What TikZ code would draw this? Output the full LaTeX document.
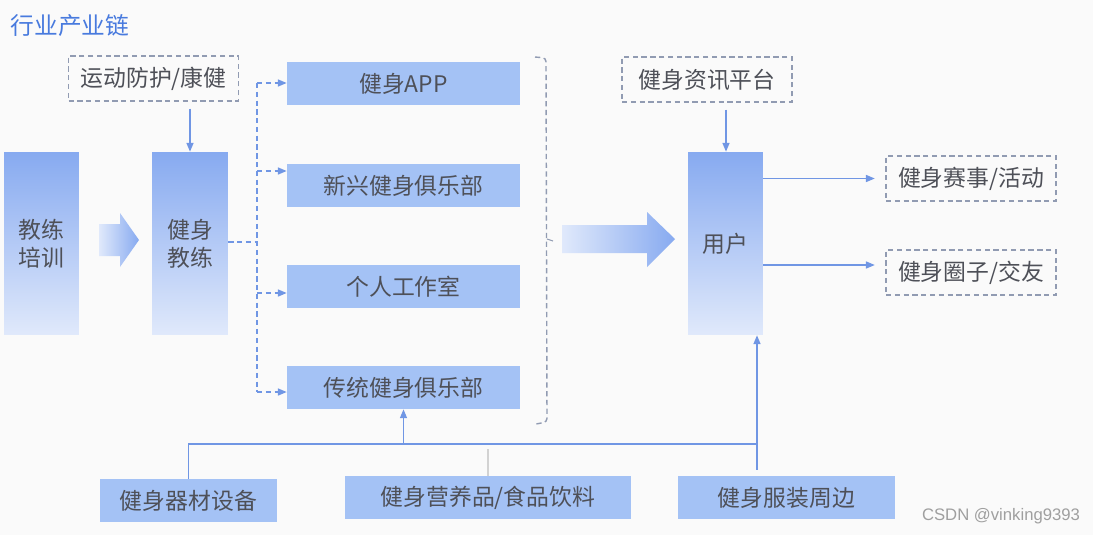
\documentclass[tikz,border=0pt]{standalone}
\usepackage{fontspec}
\usepackage{tikz}
\usetikzlibrary{arrows.meta, positioning}
\setmainfont{Noto Sans CJK SC}
\newfontfamily\wmfont{Liberation Sans}
\definecolor{boxblue}{RGB}{164,194,245}
\definecolor{topblue}{RGB}{135,170,240}
\definecolor{botblue}{RGB}{224,233,251}
\definecolor{lineblue}{RGB}{112,150,228}
\definecolor{dashgray}{RGB}{145,155,178}
\definecolor{txtgray}{RGB}{78,80,88}
\definecolor{titleblue}{RGB}{72,122,222}
\definecolor{pagebg}{RGB}{250,250,250}

\begin{document}
\begin{tikzpicture}
  [x=0.02cm, y=-0.02cm,
  every node/.style={font=\fontsize{13}{16}\selectfont, text=txtgray},
  box/.style={rectangle, fill=boxblue, minimum height=0.86cm},
  tallbox/.style={rectangle, top color=topblue, bottom color=botblue, minimum width=1.5cm, minimum height=3.66cm, align=center},
  dashbox/.style={rectangle, draw=dashgray, line width=0.8pt, dash pattern=on 3pt off 2pt, minimum width=3.4cm, minimum height=0.9cm},
  link/.style={lineblue, line width=0.7pt, -{Triangle[length=5pt,width=4pt]}},
  dlink/.style={lineblue, line width=0.8pt, dash pattern=on 3pt off 2pt, -{Triangle[length=5pt,width=4pt]}}]

\fill[pagebg] (0,0) rectangle (1093,535);

% Title
\node[text=titleblue, font=\fontsize{13.5}{16}\selectfont] (title) at (70,26) {行业产业链};

% Nodes for the coach chain
\node[dashbox] (protect) at (153.5,78.5) {运动防护/康健};
\node[tallbox] (train) at (41.5,243.5) {教练\\培训};
\node[tallbox, minimum width=1.52cm] (coach) at (190,243.5) {健身\\教练};
\shade[left color=botblue, right color=topblue]
  (99,224) -- (120,224) -- (120,213) -- (139,240) -- (120,267) -- (120,256) -- (99,256) -- cycle;

% Nodes for the places
\node[box, minimum width=4.66cm] (app) at (403.5,83.5) {健身APP};
\node[box, minimum width=4.66cm] (newclub) at (403.5,185.5) {新兴健身俱乐部};
\node[box, minimum width=4.66cm] (studio) at (403.5,286.5) {个人工作室};
\node[box, minimum width=4.66cm] (oldclub) at (403.5,387.5) {传统健身俱乐部};

% Node for the user side
\node[dashbox] (info) at (707,79.5) {健身资讯平台};
\node[tallbox] (user) at (725.5,243.5) {用户};
\node[dashbox] (event) at (971,178.5) {健身赛事/活动};
\node[dashbox] (circle) at (971,272.5) {健身圈子/交友};
\shade[left color=botblue, right color=topblue]
  (562,225) -- (647,225) -- (647,212) -- (675,239) -- (647,267) -- (647,253) -- (562,253) -- cycle;

% Nodes for the goods
\node[box, minimum width=3.54cm] (equip) at (188.5,500.5) {健身器材设备};
\node[box, minimum width=5.72cm] (food) at (488,497.5) {健身营养品/食品饮料};
\node[box, minimum width=4.34cm] (wear) at (786.5,497.5) {健身服装周边};

\node[text=gray!75, font=\wmfont\fontsize{9.5}{11}\selectfont] (mark) at (1001,516) {CSDN @vinking9393};

% Coordinates for the buses
\coordinate (bt) at (257,83);
\coordinate (bb) at (257,392);
\coordinate (busr) at (757,444);
\coordinate (wtop) at (757,470);

% Dashed links from coach to places
\draw[lineblue, line width=0.8pt, dash pattern=on 3pt off 2pt] (coach.east |- 0,242) -- (bt |- 0,242);
\draw[lineblue, line width=0.8pt, dash pattern=on 3pt off 2pt] (bt) -- (bb);
\draw[dlink] (bt) -- (app.west |- bt);
\draw[dlink] (bt |- 0,171) -- (newclub.west |- 0,171);
\draw[dlink] (bt |- 0,293) -- (studio.west |- 0,293);
\draw[dlink] (bb) -- (oldclub.west |- bb);

% Bracket round the places
\draw[dashgray, line width=0.8pt, dash pattern=on 3pt off 2pt, rounded corners=2pt]
  (535,57) -- (546,58) -- (547,422) -- (536,424);
\draw[dashgray, line width=0.6pt] (547,239) -- (553,241);

% Solid links
\draw[link, shorten <=4pt] (protect.south -| coach.north) -- (coach.north);
\draw[link, shorten <=4pt] (info.south -| 726,0) -- (user.north -| 726,0);
\draw[link, shorten >=6pt] (user.east |- event.west) -- (event.west);
\draw[link, shorten >=6pt] (user.east |- 0,265) -- (circle.west |- 0,265);
\draw[lineblue, line width=0.7pt] (equip.north) |- (busr) -- (wtop);
\draw[link] (oldclub.south |- busr) -- (oldclub.south);
\draw[link] (busr) -- (user.south -| busr);
\draw[gray!35, line width=0.6pt] (food.north) -- ++(0,-27);

\end{tikzpicture}
\end{document}
